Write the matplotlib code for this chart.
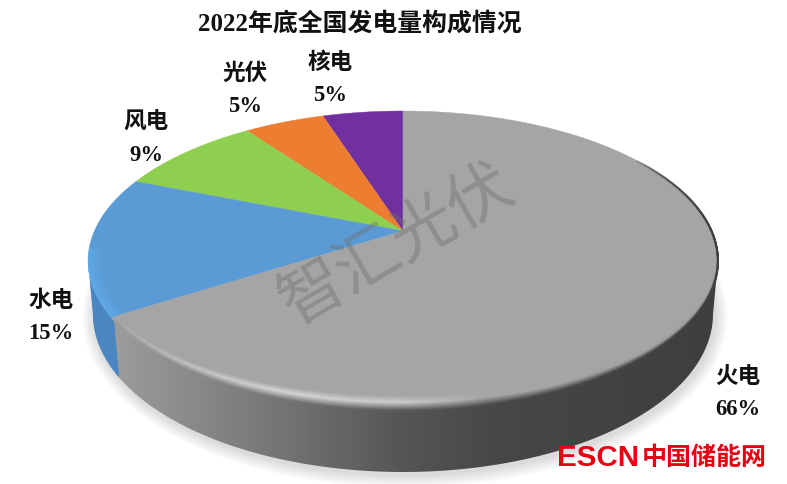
import numpy as np
import matplotlib
matplotlib.use("Agg")
import matplotlib.pyplot as plt
from matplotlib.collections import LineCollection
from matplotlib.colors import LinearSegmentedColormap
from matplotlib.patches import Polygon

title = "2022年底全国发电量构成情况"
categories = ["火电", "水电", "风电", "光伏", "核电"]
values = [66, 15, 9, 5, 5]
colors = ["#a5a5a5", "#5b9bd5", "#8fcf50", "#ed7d31", "#7030a0"]
label_xy = [(738, 391), (51, 315), (146, 137), (245, 88), (330, 77)]

plt.rcParams["font.family"] = ["Liberation Serif", "Noto Sans CJK SC"]

W, H = 787, 485
CX, CY = 403, 232      # apex of the slices
K, A = 0.2, 144        # perspective of the top face
B = 308.6


def top_point(theta, r=1.0):
    # angle on the pie -> pixel on the tilted top face
    x = r * np.cos(theta)
    y = r * np.sin(theta)
    d = 1 + K * y
    return CX + B * x / d, CY - A * y / d


def top_ellipse(t, d=0.0):
    return 403 + (315 - 0.35 * d) * np.cos(t), 262 - (150 - d) * np.sin(t)


def bottom_ellipse(t):
    return 403 + 310 * np.cos(t), 315 - 158 * np.sin(t)


def t_for_x(x, cx, rx):
    return 2 * np.pi - np.arccos((x - cx) / rx)


fig = plt.figure(figsize=(W / 100, H / 100), dpi=100)
ax = fig.add_axes([0, 0, 1, 1])
ax.set_xlim(0, W)
ax.set_ylim(H, 0)
ax.axis("off")
ax.set_autoscale_on(False)

# soft shadow under the disc
tt = np.linspace(0, 2 * np.pi, 240)
for grow in np.linspace(13, 1, 12):
    sx, sy = bottom_ellipse(tt)
    sx = 405 + (sx - 403) * (1 + grow / 310)
    sy = 318 + (sy - 315) * (1 + grow / 158)
    ax.add_patch(Polygon(np.c_[sx, sy], closed=True, fc="#000000", ec="none", alpha=0.012, zorder=1))

# slice edges, going counter-clockwise from 12 o'clock for the small ones
fracs = np.array(values) / sum(values)
edges = [np.pi / 2]
for f in fracs[::-1]:
    edges.append(edges[-1] + f * 2 * np.pi)
# edges[0..5] : top, nuclear, pv, wind, hydro, thermal(back at top)
theta_split = edges[4]

# side wall, gradient clipped to the band between the two ellipses
ts = np.linspace(np.pi, 2 * np.pi, 200)
x1, y1 = top_ellipse(ts)
x2, y2 = bottom_ellipse(ts[::-1])
side = Polygon(np.c_[np.r_[x1, x2], np.r_[y1, y2]], closed=True, fc="none", ec="none", transform=ax.transData)
ax.add_patch(side)
cmap = LinearSegmentedColormap.from_list(
    "side", [(0, "#a2a2a2"), (0.33, "#707070"), (0.49, "#565656"), (0.65, "#474747"), (1, "#3e3e3e")]
)
img = ax.imshow(np.linspace(0, 1, 400)[None, :], cmap=cmap, extent=[90, 720, 480, 200],
                aspect="auto", zorder=2, interpolation="bilinear")
img.set_clip_path(side)

# blue part of the wall
bx, by = top_point(theta_split)
t_a = t_for_x(bx + 3, 403, 315)
t_b = t_for_x(bx + 8, 403, 310)
x1, y1 = top_ellipse(np.linspace(np.pi, t_a, 40))
x2, y2 = bottom_ellipse(np.linspace(t_b, np.pi, 40))
ax.add_patch(Polygon(np.c_[np.r_[x1, x2], np.r_[y1, y2]], closed=True, fc="#4a86c2", ec="none", zorder=3))

# top face
order = [4, 3, 2, 1]
for n, i in enumerate(order):
    th = np.linspace(edges[n], edges[n + 1], 60)
    px, py = top_point(th)
    ax.add_patch(Polygon(np.c_[np.r_[CX, px], np.r_[CY, py]], closed=True, fc=colors[i], ec=colors[i], lw=0.3, zorder=4))
th = np.linspace(edges[4], edges[5], 300)
px, py = top_point(th)
ax.add_patch(Polygon(np.c_[np.r_[CX, px], np.r_[CY, py]], closed=True, fc=colors[0], ec=colors[0], lw=0.3, zorder=4))

# bevel on the grey slice: dark at the outer edge, a light band, then the face colour
base = 0xa5 / 255
t_end = 2 * np.pi + np.radians(42)
t_rim = np.linspace(t_for_x(bx + 4, 403, 315), t_end, 320)
depth = 13 * np.clip(-np.sin(t_rim), 0, 1) ** 0.8 + 2.0
glow_x = np.array([110, 180, 280, 400, 480, 720])
glow_v = np.array([0.66, 0.76, 0.84, 0.80, 0.66, 0.62])
for u in np.linspace(1, 0, 22):
    px, py = top_ellipse(t_rim, depth * u)
    pts = np.c_[px, py]
    segs = np.stack([pts[:-1], pts[1:]], axis=1)
    edge = np.array([cmap(np.clip((v - 90) / 630, 0, 1))[0] for v in px[:-1]])
    glow = np.interp(px[:-1], glow_x, glow_v)
    if u > 0.55:
        w = (u - 0.55) / 0.45
        g = glow * (1 - w) + base * w
    else:
        w = u / 0.55
        g = edge * (1 - w) + glow * w
    alpha = np.clip((t_end - t_rim[:-1]) / 0.6, 0, 1)
    rgba = np.c_[g, g, g, alpha]
    ax.add_collection(LineCollection(segs, colors=rgba, linewidths=1.2, zorder=5))

# lighter rim on the blue slice
th = np.linspace(edges[3] + 0.5, edges[4], 100)
for r, a in zip(np.linspace(0.96, 0.997, 8), np.linspace(0.05, 0.8, 8)):
    px, py = top_point(th, r)
    ax.plot(px, py, color="#5fb0f0", lw=1.0, alpha=a, zorder=5)

# watermark
ax.text(397, 245, "智汇光伏", fontsize=46.5, color="#6e6e6e", alpha=0.42, rotation=30,
        ha="center", va="center", rotation_mode="anchor", zorder=6,
        family=["Noto Sans CJK SC"], fontweight="light")

# title and labels
ax.text(360, 24, title, fontsize=17.9, fontweight="bold", color="#111111", ha="center", va="center", zorder=7)
for name, v, (lx, ly) in zip(categories, values, label_xy):
    ax.text(lx, ly - 13.5, name, fontsize=16.3, fontweight="bold", color="#111111", ha="center", va="center", zorder=7)
    ax.text(lx, ly + 18.5, f"{v}%", fontsize=16.3, fontweight="bold", color="#111111", ha="center", va="center", zorder=7)

# site logo
ax.text(557, 458, "ESCN", fontsize=21.3, fontweight="bold", color="#e60012", ha="left", va="center",
        family=["Liberation Sans"], zorder=7)
ax.text(642, 458, "中国储能网", fontsize=18, fontweight="bold", color="#e60012", ha="left", va="center",
        family=["Noto Sans CJK SC"], zorder=7)

fig.savefig("out.png", dpi=100, facecolor="white")
